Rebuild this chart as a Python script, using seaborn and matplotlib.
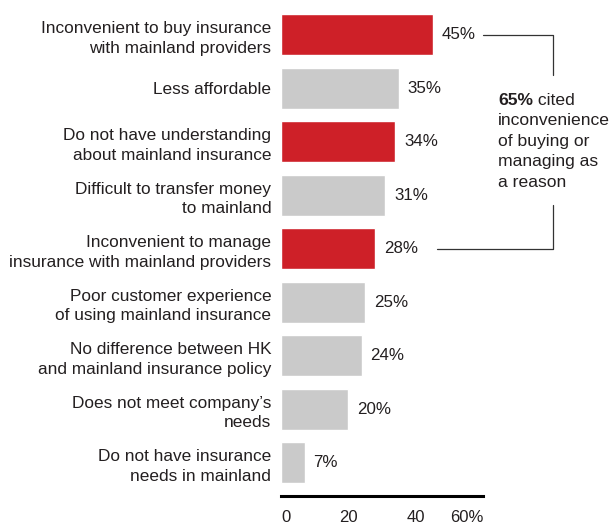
import numpy as np
import pandas as pd
import seaborn as sns
import matplotlib.pyplot as plt

sns.set_style('white')
plt.rcParams['font.family'] = ['Liberation Sans', 'DejaVu Sans']

# data
reasons = ['Inconvenient to buy insurance\nwith mainland providers',
           'Less affordable',
           'Do not have understanding\nabout mainland insurance',
           'Difficult to transfer money\nto mainland',
           'Inconvenient to manage\ninsurance with mainland providers',
           'Poor customer experience\nof using mainland insurance',
           'No difference between HK\nand mainland insurance policy',
           "Does not meet company\u2019s\nneeds",
           'Do not have insurance\nneeds in mainland']
shares = [45, 35, 34, 31, 28, 25, 24, 20, 7]
highlight = ['yes', 'no', 'yes', 'no', 'yes', 'no', 'no', 'no', 'no']
ticks = [0, 20, 40, 60]
tick_labels = ['0', '20', '40', '60%']

df = pd.DataFrame({'reason': reasons, 'share': shares, 'hl': highlight})

RED = '#CE2028'
GREY = '#CACACA'
INK = '#231F20'

fig = plt.figure(figsize=(6.11, 5.24), dpi=100)
ax = fig.add_axes([281 / 611, 1 - 496 / 524, 202 / 611, 488 / 524])

sns.barplot(data=df, x='share', y='reason', hue='hl',
            palette={'yes': RED, 'no': GREY}, dodge=False, legend=False,
            width=0.77, saturation=1, ax=ax)

ax.set_xlim(0, 60)
ax.set_ylim(len(reasons) - 1 + 0.62, -0.5)
ax.set_xlabel('')
ax.set_ylabel('')

# spines & ticks
for s in ['top', 'right', 'left']:
    ax.spines[s].set_visible(False)
ax.spines['bottom'].set_color('black')
ax.spines['bottom'].set_linewidth(2.2)
ax.tick_params(axis='both', length=0)
ax.tick_params(axis='y', pad=7)
ax.tick_params(axis='x', pad=10)
ax.set_yticks(range(len(reasons)))
ax.set_yticklabels(reasons, fontsize=12.4, color=INK, linespacing=1.38)
ax.set_xticks(ticks)
ax.set_xticklabels(tick_labels, fontsize=12, color=INK)
xl = ax.get_xticklabels()
xl[0].set_ha('left')
xl[-1].set_ha('right')

# value labels
for i, v in enumerate(shares):
    ax.text(v + 2.6, i, f'{v}%', va='center', ha='left', fontsize=12.2, color=INK)

# bracket annotation
bx = 80.8
ax.plot([60, bx, bx], [0, 0, 0.75], color='#333333', lw=0.9, clip_on=False)
ax.plot([46.3, bx, bx], [4, 4, 3.18], color='#333333', lw=0.9, clip_on=False)

tx = 64.5
t1 = ax.text(tx, 1.23, '65%', fontsize=12.6, weight='bold', color=INK,
             va='center', ha='left')
ax.annotate(' cited', xy=(1, 0), xycoords=t1, va='bottom', ha='left',
            fontsize=12.6, color=INK)
ax.text(tx, 1.47, 'inconvenience\nof buying or\nmanaging as\na reason',
        fontsize=12.6, color=INK, va='top', ha='left', linespacing=1.45)

plt.savefig('out.png', dpi=100)
